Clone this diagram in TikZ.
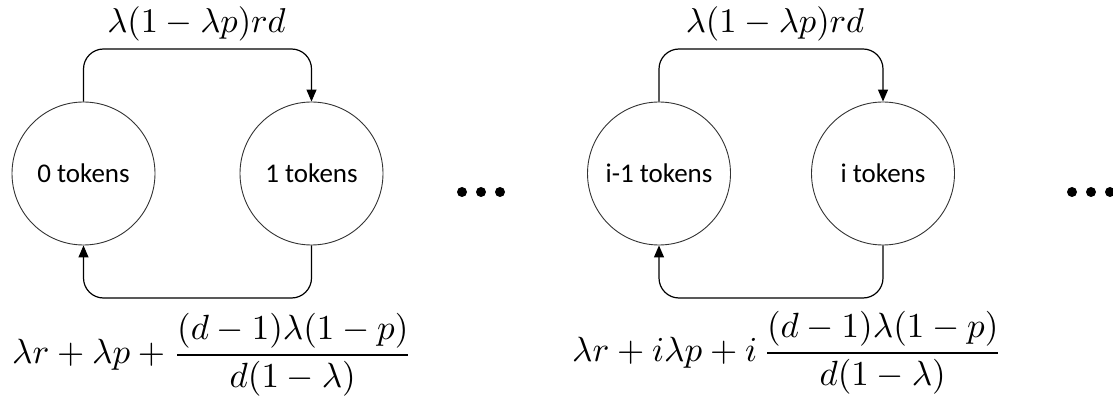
\documentclass[tikz,border=0pt]{standalone}
\usepackage{fontspec}
\newfontfamily\calib{Carlito}
\usetikzlibrary{arrows.meta}
\newcommand{\toptxt}[1]{\scalebox{3.45}{#1}}
\newcommand{\bottxt}[1]{\scalebox{3.5}{#1}}
\begin{document}
\begin{tikzpicture}[x=1pt,y=-1pt,
  state/.style={circle,draw=black!80,line width=0.9pt,minimum size=143pt,inner sep=0pt,font=\calib\fontsize{27}{30}\selectfont},
  conn/.style={draw=black,line width=1.2pt,rounded corners=20pt,-{Triangle[length=12pt,width=10pt]}},
  lab/.style={inner sep=0pt},
  dot/.style={circle,fill=black,inner sep=0pt,minimum size=10pt}]
\useasboundingbox (0,0) rectangle (1113,403);
% states
\node[state] (s0) at (83.5,173.5) {0 tokens};
\node[state] (s1) at (311.5,173.5) {1 tokens};
\node[state] (s2) at (659,173.5) {i-1 tokens};
\node[state] (s3) at (883,173.5) {i tokens};
% turning points
\coordinate (t01) at (197.5,49);
\coordinate (b01) at (197.5,298);
\coordinate (t23) at (771,49);
\coordinate (b23) at (771,298);
% connectors
\draw[conn] (s0.north) |- (t01) -| (s1.north);
\draw[conn] (s1.south) |- (b01) -| (s0.south);
\draw[conn] (s2.north) |- (t23) -| (s3.north);
\draw[conn] (s3.south) |- (b23) -| (s2.south);
% labels
\node[lab] (l01) at (196.5,24) {\toptxt{$\lambda(1-\lambda p)rd$}};
\node[lab] (l23) at (775,24) {\toptxt{$\lambda(1-\lambda p)rd$}};
\node[lab,anchor=west] (m01) at (12,355) {\bottxt{$\displaystyle \lambda r+\lambda p+\frac{(d-1)\lambda(1-p)}{d(1-\lambda)}$}};
\node[lab,anchor=west] (m23) at (572,353) {\bottxt{$\displaystyle \lambda r+i\lambda p+i\,\frac{(d-1)\lambda(1-p)}{d(1-\lambda)}$}};
% dots
\node[dot] (d1) at (462,192) {};
\node[dot] (d2) at (481,192) {};
\node[dot] (d3) at (500,192) {};
\node[dot] (d4) at (1072,192) {};
\node[dot] (d5) at (1091,192) {};
\node[dot] (d6) at (1110,192) {};
\end{tikzpicture}
\end{document}
